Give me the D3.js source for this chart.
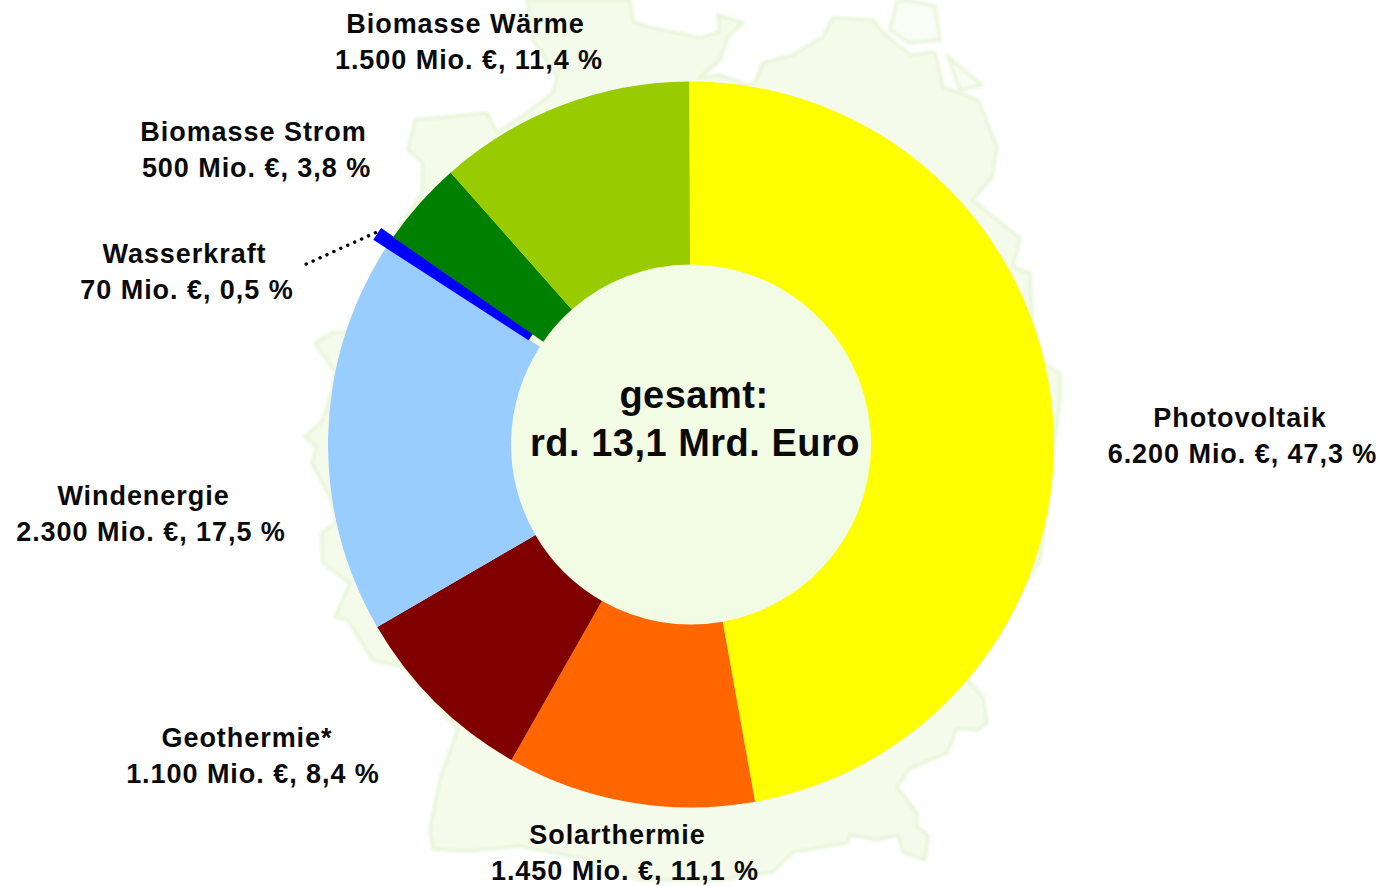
<!DOCTYPE html>
<html lang="de">
<head>
<meta charset="utf-8">
<script src="https://cdn.jsdelivr.net/npm/d3@7"></script>
<style>
html,body{margin:0;padding:0;background:#fff;overflow:hidden}
svg{display:block}
text{font-family:"Liberation Sans",Arial,sans-serif;font-weight:700;fill:#0a0a0a}
</style>
</head>
<body>
<svg id="chart" width="1381" height="886"></svg>
<script>
// --- data ---
const categories = ["Photovoltaik","Solarthermie","Geothermie*","Windenergie","Wasserkraft","Biomasse Strom","Biomasse Wärme"];
const values = [6200,1450,1100,2300,70,500,1500];
const valueLabels = ["6.200 Mio. €, 47,3 %","1.450 Mio. €, 11,1 %","1.100 Mio. €, 8,4 %","2.300 Mio. €, 17,5 %","70 Mio. €, 0,5 %","500 Mio. €, 3,8 %","1.500 Mio. €, 11,4 %"];
const centerLines = ["gesamt:","rd. 13,1 Mrd. Euro"];

// --- styling and layout ---
const colors = ["#ffff00","#ff6600","#800000","#99ccff","#0000ff","#008000","#99cc00"];
const titleCenters = [[1240,427],[617.5,844],[247,747],[143.5,505],[184.5,263],[253.5,141],[465.5,33]];
const valueCenters = [1242.5,625,253,151,187,256.5,469];
const cx = 691, cy = 444.5, outer = 363, inner = 180, rotation = -0.005;
const explodedIndex = 4, explodeBy = 14;
const mapOutline = [[527,0],[630,0],[633,22],[653,28],[700,38],[720,32],[718,15],[743,23],[728,37],[720,60],[700,77],[720,75],[747,85],[755,83],[763,63],[793,55],[823,37],[833,18],[873,20],[883,33],[910,55],[935,52],[943,87],[978,100],[997,147],[992,177],[972,200],[1020,238],[1013,267],[1030,273],[1032,317],[1043,363],[1060,373],[1060,400],[1055,437],[1040,560],[967,680],[983,697],[987,723],[977,730],[957,728],[947,753],[910,768],[897,787],[917,813],[917,827],[928,835],[925,860],[903,852],[898,835],[877,840],[850,835],[847,843],[793,852],[773,872],[720,880],[640,880],[590,860],[520,846],[470,851],[433,849],[430,829],[440,779],[458,729],[403,667],[373,660],[348,620],[335,617],[350,583],[323,563],[322,533],[337,522],[330,497],[312,463],[317,447],[305,437],[323,420],[333,387],[335,372],[315,343],[333,332],[347,333],[385,250],[422,193],[423,163],[408,150],[415,120],[487,113],[497,133],[527,113],[553,93],[557,77],[533,40]];
const islands = [[[897,2],[905,0],[935,6],[940,40],[910,43],[890,30]],[[948,57],[982,85],[960,90]]];

const svg = d3.select("#chart");
const defs = svg.append("defs");
defs.append("filter").attr("id","soft").attr("x","-5%").attr("y","-5%").attr("width","110%").attr("height","110%")
  .append("feGaussianBlur").attr("stdDeviation",1.5);

// faint map backdrop
const mapLine = d3.line().curve(d3.curveLinearClosed);
const mapG = svg.append("g").attr("filter","url(#soft)");
mapG.append("path").attr("d",mapLine(mapOutline)).attr("fill","#f5fbeb").attr("stroke","#e6f4d6").attr("stroke-width",3);
mapG.selectAll("path.island").data(islands).join("path").attr("class","island")
  .attr("d",d=>mapLine(d)).attr("fill","#fafdf5").attr("stroke","#e6f4d6").attr("stroke-width",3);

// donut
const pie = d3.pie().sort(null).startAngle(rotation).endAngle(2*Math.PI+rotation)(values);
const arc = d3.arc().innerRadius(inner).outerRadius(outer);
const chartG = svg.append("g").attr("transform",`translate(${cx},${cy})`);
chartG.append("circle").attr("r",inner+1).attr("fill","#f2fbe3");
chartG.selectAll("path.slice").data(pie).join("path").attr("class","slice")
  .attr("fill",(d,i)=>colors[i])
  .attr("stroke",(d,i)=>i===explodedIndex?colors[i]:"none")
  .attr("stroke-width",(d,i)=>i===explodedIndex?2:0)
  .attr("transform",(d,i)=>{
    if(i!==explodedIndex) return null;
    const m=(d.startAngle+d.endAngle)/2;
    return `translate(${Math.sin(m)*explodeBy},${-Math.cos(m)*explodeBy})`;
  })
  .attr("d",arc);

// leader line for the exploded slice
const wk = pie[explodedIndex], wkMid = (wk.startAngle+wk.endAngle)/2;
const wkR = outer+explodeBy+3;
svg.append("line")
  .attr("x1",cx+Math.sin(wkMid)*wkR).attr("y1",cy-Math.cos(wkMid)*wkR)
  .attr("x2",302).attr("y2",266)
  .attr("stroke","#000").attr("stroke-width",3.4).attr("stroke-linecap","round").attr("stroke-dasharray","0.1 7.5");

// labels
const labels = svg.append("g").attr("text-anchor","middle").attr("font-size",27);
categories.forEach((c,i)=>{
  const [x,y]=titleCenters[i];
  labels.append("text").attr("x",x).attr("y",y).style("letter-spacing","0.95px").text(c);
  labels.append("text").attr("x",valueCenters[i]).attr("y",y+36).style("letter-spacing","0.95px").text(valueLabels[i]);
});

// centre text
const centre = svg.append("g").attr("text-anchor","middle").attr("font-size",38);
centerLines.forEach((t,i)=>{
  centre.append("text").attr("x",i?695:694).attr("y",408+48*i).style("letter-spacing","0.5px").text(t);
});
</script>
</body>
</html>
